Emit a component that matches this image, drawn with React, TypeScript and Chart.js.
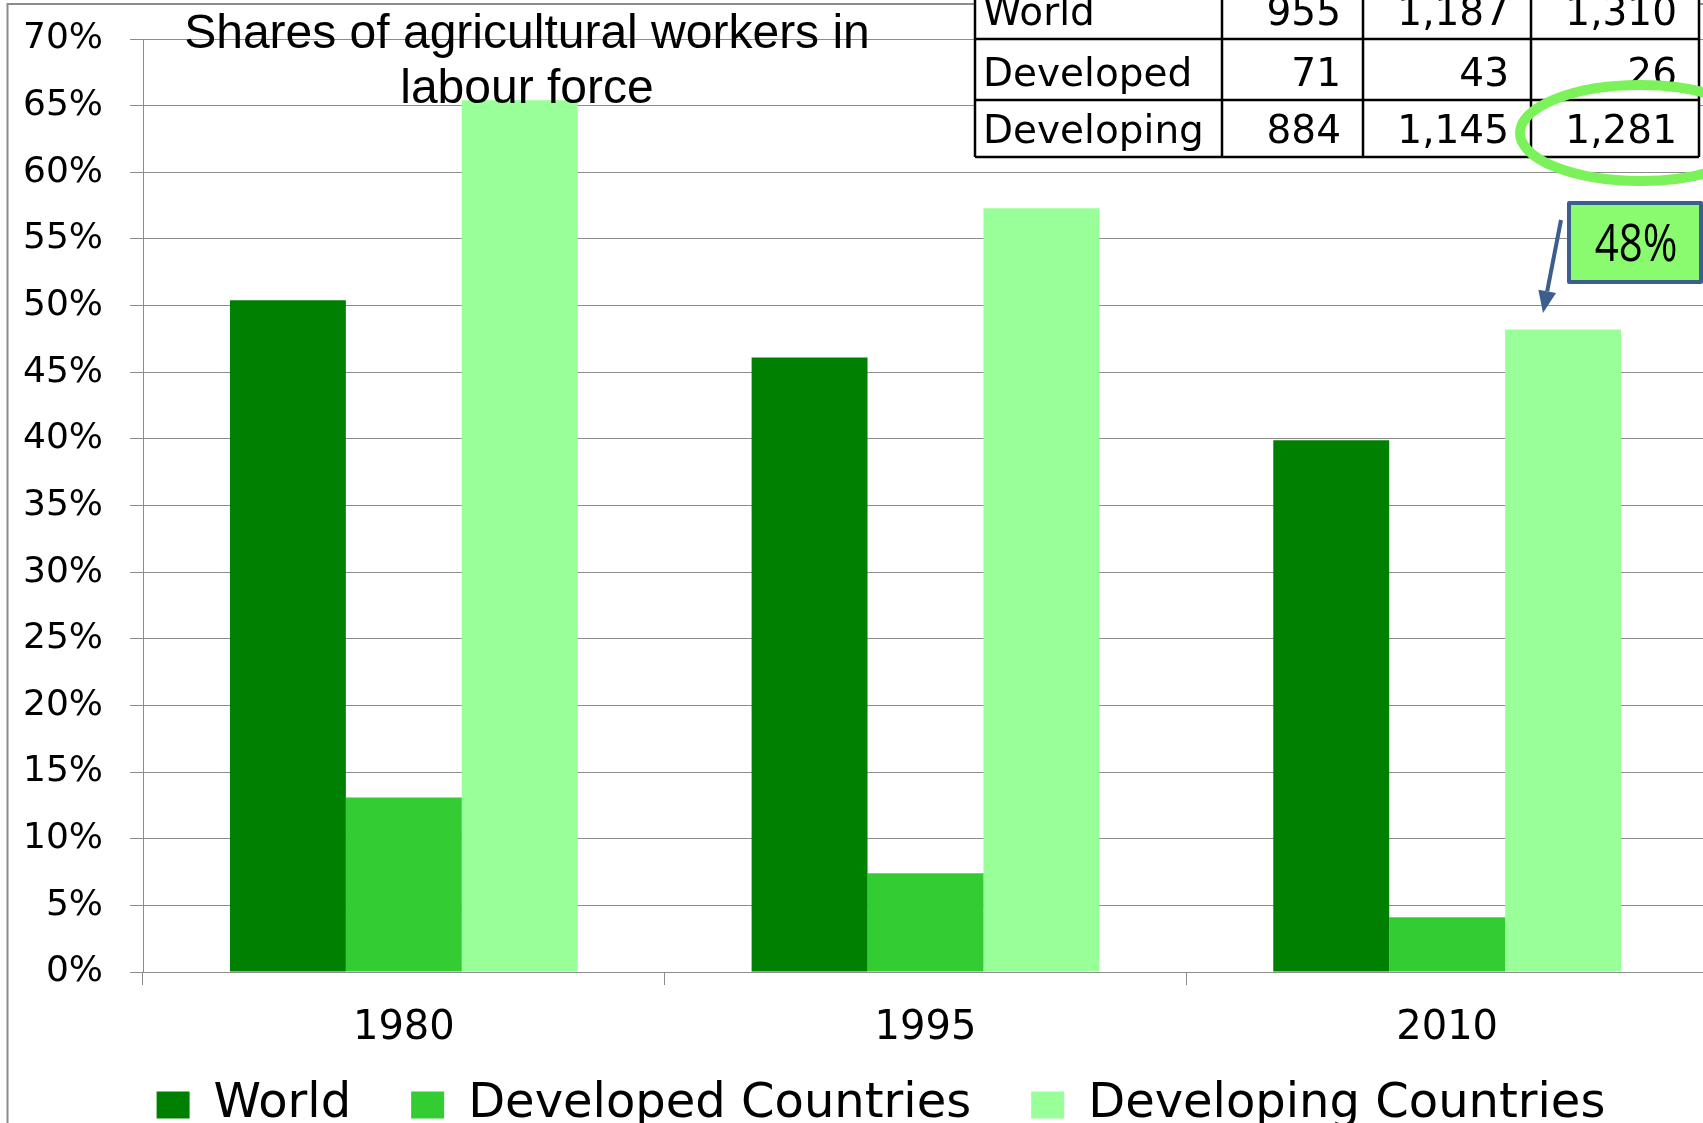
import React, { useEffect, useRef } from 'react';
import { Chart, registerables } from 'chart.js';

Chart.register(...registerables);

// ---- data ----
const categories = ['1980', '1995', '2010'];
const worldShares = [50.4, 46.1, 39.9];
const developedShares = [13.1, 7.4, 4.1];
const developingShares = [65.4, 57.3, 48.2];
const seriesNames = ['World', 'Developed Countries', 'Developing Countries'];
const seriesColors = ['#008000', '#33CC33', '#99FF99'];
const yMin = 0;
const yMax = 70;
const yStep = 5;

const titleLines = ['Shares of agricultural workers in', 'labour force'];

const tableRowLabels = ['World', 'Developed', 'Developing'];
const table1980 = ['955', '71', '884'];
const table1995 = ['1,187', '43', '1,145'];
const table2010 = ['1,310', '26', '1,281'];
const calloutText = '48%';

const overlayPlugin = {
  id: 'overlay',
  afterDraw(chart: any) {
    const ctx = chart.ctx as CanvasRenderingContext2D;
    ctx.save();

    // outer chart frame
    ctx.strokeStyle = '#8c8c8c';
    ctx.lineWidth = 2;
    ctx.beginPath();
    ctx.moveTo(7.5, 1300);
    ctx.lineTo(7.5, 4);
    ctx.lineTo(1760, 4);
    ctx.stroke();

    // title
    ctx.fillStyle = '#000';
    ctx.font = '48px "Liberation Sans", Arial, sans-serif';
    ctx.textAlign = 'center';
    ctx.textBaseline = 'alphabetic';
    ctx.fillText(titleLines[0], 527, 48);
    ctx.fillText(titleLines[1], 527, 103);

    // data table
    const colX = [975, 1222, 1363, 1531, 1699];
    const rowY = [-20, 39, 100, 157];
    ctx.fillStyle = '#fff';
    ctx.fillRect(colX[0], rowY[0], colX[4] - colX[0], rowY[3] - rowY[0]);
    ctx.strokeStyle = '#000';
    ctx.lineWidth = 2.5;
    ctx.beginPath();
    for (const x of colX) {
      ctx.moveTo(x, rowY[0]);
      ctx.lineTo(x, rowY[3]);
    }
    for (const y of rowY) {
      ctx.moveTo(colX[0], y);
      ctx.lineTo(colX[4], y);
    }
    ctx.stroke();
    ctx.fillStyle = '#000';
    ctx.font = '39px "DejaVu Sans", sans-serif';
    const cols = [table1980, table1995, table2010];
    tableRowLabels.forEach((lbl, r) => {
      const base = rowY[r + 1] - 14;
      ctx.textAlign = 'left';
      ctx.fillText(lbl, colX[0] + 8, base);
      ctx.textAlign = 'right';
      cols.forEach((col, c) => {
        ctx.fillText(col[r], colX[c + 2] - 22, base);
      });
    });

    // highlight ellipse
    ctx.strokeStyle = '#7CF25A';
    ctx.lineWidth = 10;
    ctx.beginPath();
    ctx.ellipse(1640, 133, 120, 48, 0, 0, Math.PI * 2);
    ctx.stroke();

    // arrow
    const sx = 1561, sy = 220, tx = 1543, ty = 313;
    const len = Math.hypot(tx - sx, ty - sy);
    const ux = (tx - sx) / len, uy = (ty - sy) / len;
    const head = 22, hw = 9;
    ctx.strokeStyle = '#3B5E8C';
    ctx.fillStyle = '#3B5E8C';
    ctx.lineWidth = 4;
    ctx.beginPath();
    ctx.moveTo(sx, sy);
    ctx.lineTo(tx - ux * head, ty - uy * head);
    ctx.stroke();
    ctx.beginPath();
    ctx.moveTo(tx, ty);
    ctx.lineTo(tx - ux * head - uy * hw, ty - uy * head + ux * hw);
    ctx.lineTo(tx - ux * head + uy * hw, ty - uy * head - ux * hw);
    ctx.closePath();
    ctx.fill();

    // callout box
    ctx.fillStyle = '#8AFA6E';
    ctx.fillRect(1569, 203, 132, 79);
    ctx.strokeStyle = '#3C5F8E';
    ctx.lineWidth = 4;
    ctx.lineJoin = 'round';
    ctx.strokeRect(1569, 203, 132, 79);
    ctx.fillStyle = '#000';
    ctx.font = '42px "Open Sans", sans-serif';
    ctx.textAlign = 'center';
    ctx.textBaseline = 'alphabetic';
    ctx.save();
    ctx.translate(1636, 261);
    ctx.scale(1, 1.2);
    ctx.fillText(calloutText, 0, 0);
    ctx.restore();

    ctx.restore();
  },
};

const legendShiftPlugin = {
  id: 'legendShift',
  afterLayout(chart: any) {
    const lg = chart.legend;
    if (lg) {
      const h = lg.bottom - lg.top;
      lg.left += 27;
      lg.right += 27;
      lg.top = chart.chartArea.bottom + 49;
      lg.bottom = lg.top + h;
    }
  },
};

export default function App() {
  const canvasRef = useRef<HTMLCanvasElement | null>(null);

  useEffect(() => {
    const canvas = canvasRef.current;
    if (!canvas) return;
    const datasets = [worldShares, developedShares, developingShares].map((d, i) => ({
      label: seriesNames[i],
      data: d,
      backgroundColor: seriesColors[i],
      borderWidth: 0,
      categoryPercentage: 2 / 3,
      barPercentage: 1,
    }));
    const chart = new Chart(canvas, {
      type: 'bar',
      data: { labels: categories, datasets },
      options: {
        responsive: false,
        animation: false,
        devicePixelRatio: 1,
        layout: { padding: { left: 0, right: 4, top: 39, bottom: 0 } },
        plugins: {
          title: { display: false },
          tooltip: { enabled: false },
          legend: {
            position: 'bottom',
            labels: {
              font: { family: '"DejaVu Sans", sans-serif', size: 48 },
              color: '#000',
              boxWidth: 33,
              boxHeight: 27,
              padding: 60,
            },
          },
        },
        scales: {
          x: {
            offset: true,
            grid: {
              offset: true,
              drawOnChartArea: false,
              drawTicks: true,
              tickLength: 13,
              color: '#8c8c8c',
              lineWidth: 1,
            },
            border: { color: '#8c8c8c', width: 1 },
            ticks: {
              font: { family: '"DejaVu Sans", sans-serif', size: 40 },
              color: '#000',
              padding: 20,
              maxRotation: 0,
            },
            afterFit: (s: any) => {
              s.height = 84;
              s.paddingLeft = 0;
              s.paddingRight = 0;
            },
          },
          y: {
            min: yMin,
            max: yMax,
            ticks: {
              stepSize: yStep,
              callback: (v: any) => v + '%',
              font: { family: '"DejaVu Sans", sans-serif', size: 36 },
              color: '#000',
              padding: 27,
            },
            grid: { color: '#8c8c8c', lineWidth: 1, tickLength: 13, drawTicks: true },
            border: { color: '#8c8c8c', width: 1 },
            afterFit: (s: any) => {
              s.width = 143;
              s.paddingTop = 0;
              s.paddingBottom = 0;
            },
          },
        },
      },
      plugins: [overlayPlugin, legendShiftPlugin],
    } as any);
    return () => chart.destroy();
  }, []);

  return (
    <div
      style={{
        position: 'absolute',
        left: 0,
        top: 0,
        width: 1703,
        height: 1123,
        overflow: 'hidden',
        background: '#fff',
      }}
    >
      <canvas ref={canvasRef} width={1712} height={1174} style={{ display: 'block' }} />
    </div>
  );
}
